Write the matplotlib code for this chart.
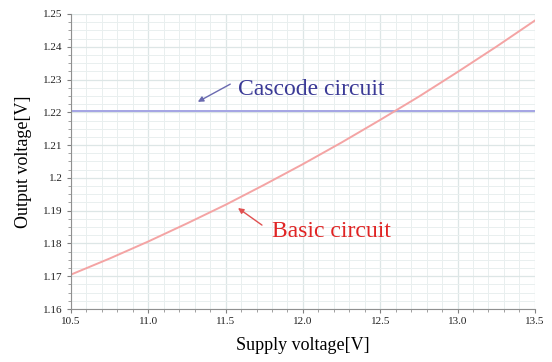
import numpy as np
import matplotlib
matplotlib.use("Agg")
import matplotlib.pyplot as plt
from matplotlib.ticker import MultipleLocator

# supply voltage sweep [V]
supply_v = [10.5, 10.75, 11.0, 11.25, 11.5, 11.75, 12.0, 12.25, 12.5, 12.75, 13.0, 13.25, 13.5]
# output voltage of the basic circuit [V]
basic_out = [1.1705, 1.1754, 1.1806, 1.1861, 1.1918, 1.1979, 1.2042, 1.2108,
             1.2177, 1.2248, 1.2323, 1.2400, 1.2480]
# output voltage of the cascode circuit [V]
cascode_out = [1.2205] * len(supply_v)

x_ticks = [10.5, 11.0, 11.5, 12.0, 12.5, 13.0, 13.5]
y_ticks = [1.16, 1.17, 1.18, 1.19, 1.2, 1.21, 1.22, 1.23, 1.24, 1.25]
y_tick_labels = ["1.16", "1.17", "1.18", "1.19", "1.2", "1.21", "1.22", "1.23", "1.24", "1.25"]

plt.rcParams['font.family'] = ['Liberation Serif', 'DejaVu Serif']

fig = plt.figure(figsize=(5.52, 3.62), dpi=100)
ax = fig.add_axes([0.1286, 0.1464, 0.8404, 0.815])

# grid
ax.xaxis.set_minor_locator(MultipleLocator(0.1))
ax.yaxis.set_minor_locator(MultipleLocator(0.0025))
ax.grid(which='major', color='#dde6e6', lw=0.9)
ax.grid(which='minor', color='#e9efef', lw=0.7)
ax.set_axisbelow(True)

ax.plot(supply_v, cascode_out, color='#a4a4e4', lw=1.4)
ax.plot(supply_v, basic_out, color='#f4a4a4', lw=1.4)

ax.set_xlim(10.5, 13.5)
ax.set_ylim(1.16, 1.25)
ax.set_xticks(x_ticks)
ax.set_xticklabels([f"{v:.1f}" for v in x_ticks])
ax.set_yticks(y_ticks)
ax.set_yticklabels(y_tick_labels)

for s in ['top', 'right']:
    ax.spines[s].set_visible(False)
for s in ['left', 'bottom']:
    ax.spines[s].set_color('#909090')
    ax.spines[s].set_linewidth(0.8)

ax.tick_params(which='major', length=3, color='#808080', labelsize=8, labelcolor='#222222', pad=3)
ax.tick_params(which='minor', length=2, color='#909090')

ax.set_xlabel("Supply voltage[V]", fontsize=13, labelpad=8)
ax.set_ylabel("Output voltage[V]", fontsize=13, labelpad=8)

# annotations
ax.text(11.58, 1.2271, "Cascode circuit", fontsize=17, color='#3a3a96', va='center', ha='left')
ax.annotate("", xy=(11.32, 1.2232), xytext=(11.53, 1.2286),
            arrowprops=dict(arrowstyle='-|>', color='#6a6ab0', lw=1.0,
                            shrinkA=0, shrinkB=0, mutation_scale=8))
ax.text(11.80, 1.1835, "Basic circuit", fontsize=17, color='#e02424', va='center', ha='left')
ax.annotate("", xy=(11.58, 1.1908), xytext=(11.735, 1.1856),
            arrowprops=dict(arrowstyle='-|>', color='#e05050', lw=1.0,
                            shrinkA=0, shrinkB=0, mutation_scale=8))

fig.savefig("out.png", dpi=100)
